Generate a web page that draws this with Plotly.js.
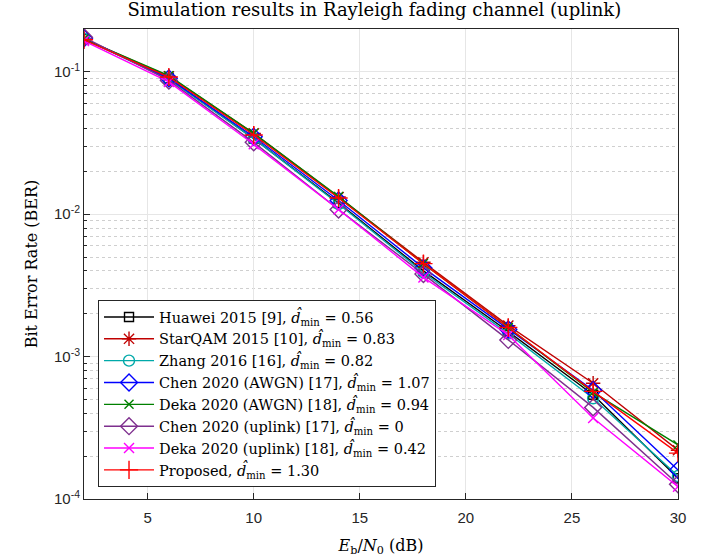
<!DOCTYPE html>
<html><head><meta charset="utf-8">
<script src="https://cdn.plot.ly/plotly-3.0.1.min.js"></script>
<style>body{margin:0;background:#fff}#c{width:713px;height:560px}</style>
</head><body><div id="c"></div>
<script>
const snr = [2, 6, 10, 14, 18, 22, 26, 30];
const names = [
  'Huawei 2015 [9], <i>d&#770;</i><sub>min</sub> = 0.56',
  'StarQAM 2015 [10], <i>d&#770;</i><sub>min</sub> = 0.83',
  'Zhang 2016 [16], <i>d&#770;</i><sub>min</sub> = 0.82',
  'Chen 2020 (AWGN) [17], <i>d&#770;</i><sub>min</sub> = 1.07',
  'Deka 2020 (AWGN) [18], <i>d&#770;</i><sub>min</sub> = 0.94',
  'Chen 2020 (uplink) [17], <i>d&#770;</i><sub>min</sub> = 0',
  'Deka 2020 (uplink) [18], <i>d&#770;</i><sub>min</sub> = 0.42',
  'Proposed, <i>d&#770;</i><sub>min</sub> = 1.30'
];
const huawei   = [0.170, 0.090, 0.034, 0.0120, 0.0040, 0.00150, 0.00054, 0.000140];
const starqam  = [0.170, 0.093, 0.037, 0.0132, 0.0046, 0.00165, 0.00065, 0.000220];
const zhang    = [0.170, 0.089, 0.034, 0.0118, 0.0039, 0.00145, 0.00051, 0.000145];
const chenA    = [0.172, 0.090, 0.035, 0.0125, 0.0042, 0.00155, 0.00058, 0.000160];
const dekaA    = [0.170, 0.094, 0.037, 0.0133, 0.0045, 0.00160, 0.00056, 0.000240];
const chenU    = [0.175, 0.087, 0.032, 0.0108, 0.0038, 0.00131, 0.00044, 0.000127];
const dekaU    = [0.165, 0.085, 0.031, 0.0108, 0.0036, 0.00142, 0.00037, 0.000122];
const proposed = [0.168, 0.092, 0.036, 0.0130, 0.0045, 0.00160, 0.00057, 0.000210];
const series = [huawei, starqam, zhang, chenA, dekaA, chenU, dekaU, proposed];
const colors = ['#000000', '#c00000', '#00a9a9', '#0000ff', '#008000', '#7e2f8e', '#ff00ff', '#ff0000'];
const symbols = ['square-open', 'asterisk-open', 'circle-open', 'diamond-open', 'x-thin-open', 'diamond-open', 'x-thin-open', 'cross-thin-open'];
const sizes = [9, 12, 11, 13, 9, 13, 10, 13];
const yTickVals = [1e-4, 1e-3, 1e-2, 1e-1];
const yTickText = ['10<sup>-4</sup>', '10<sup>-3</sup>', '10<sup>-2</sup>', '10<sup>-1</sup>'];
const yMinor = [];
[1e-4, 1e-3, 1e-2, 1e-1].forEach(d => { for (let k = 2; k <= 9; k++) yMinor.push(d * k); });

const traces = series.map((s, i) => ({
  x: snr, y: s, name: names[i], type: 'scatter', mode: 'lines+markers',
  line: {color: colors[i], width: 1.4},
  marker: {symbol: symbols[i], size: sizes[i], color: colors[i], line: {color: colors[i], width: 1.4}}
}));

const serif = 'DejaVu Serif, serif';
const sans = 'Liberation Sans, Arial, sans-serif';
const layout = {
  width: 713, height: 560,
  margin: {l: 84, r: 35, t: 29, b: 61},
  paper_bgcolor: '#fff', plot_bgcolor: '#fff',
  title: {text: 'Simulation results in Rayleigh fading channel (uplink)', font: {family: serif, size: 18, color: '#000'}, x: 0.525, xanchor: 'center', y: 0.994, yanchor: 'top'},
  xaxis: {
    range: [2, 30], tickvals: [5, 10, 15, 20, 25, 30], ticks: 'inside', ticklen: 6, tickcolor: '#262626',
    showline: true, mirror: true, linecolor: '#262626', linewidth: 1,
    showgrid: true, gridcolor: '#e6e6e6', gridwidth: 1, zeroline: false,
    tickfont: {family: sans, size: 15, color: '#262626'}, ticklabelstandoff: 5,
    title: {text: '<i>E</i><sub>b</sub>/<i>N</i><sub>0</sub> (dB)', font: {family: serif, size: 16, color: '#000'}, standoff: 14}
  },
  yaxis: {
    type: 'log', range: [-4, Math.log10(0.2)], tickvals: yTickVals, ticktext: yTickText,
    ticks: 'inside', ticklen: 6, tickcolor: '#262626',
    showline: true, mirror: true, linecolor: '#262626', linewidth: 1,
    showgrid: true, gridcolor: '#e6e6e6', gridwidth: 1, zeroline: false,
    tickfont: {family: sans, size: 15, color: '#262626'},
    minor: {tickmode: 'array', tickvals: yMinor, ticks: 'inside', ticklen: 3, tickcolor: '#262626', showgrid: true, gridcolor: '#cfcfcf', griddash: 'dot', gridwidth: 1},
    title: {text: 'Bit Error Rate (BER)', font: {family: serif, size: 16, color: '#000'}, standoff: 12}
  },
  legend: {
    x: 0.0236, y: 0.4234, xanchor: 'left', yanchor: 'top',
    bgcolor: '#fff', bordercolor: '#262626', borderwidth: 1,
    font: {family: serif, size: 14.5, color: '#000'}, itemwidth: 50, tracegroupgap: 0
  },
  showlegend: true
};
Plotly.newPlot('c', traces, layout, {staticPlot: true});
</script></body></html>
